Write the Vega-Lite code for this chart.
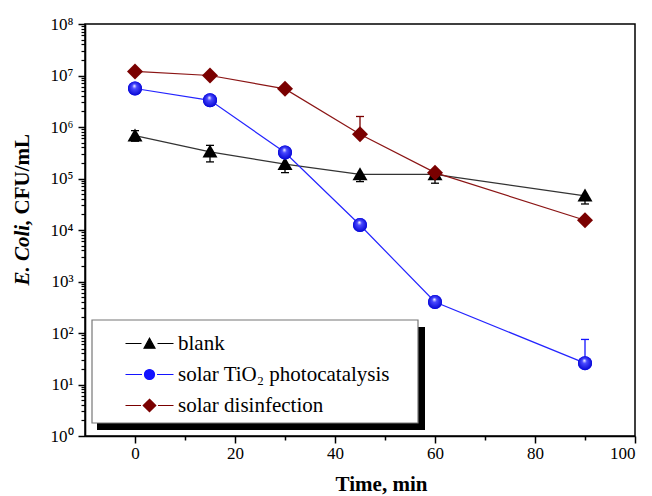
{
  "$schema": "https://vega.github.io/schema/vega-lite/v6.json",
  "width": 550,
  "height": 412,
  "autosize": {"type": "none"},
  "padding": {"left": 85, "top": 24, "right": 17, "bottom": 60},
  "config": {
    "font": "Liberation Serif",
    "view": {"stroke": "#000", "strokeWidth": 1.5},
    "axis": {"grid": false, "domainColor": "#000", "tickColor": "#000", "labelColor": "#000", "titleColor": "#000", "domainWidth": 1.6, "tickWidth": 1.5, "titleFont": "Liberation Serif"}
  },
  "datasets": {
    "pts": [
      {"series": "blank", "t": 0, "v": 680000, "lo": 530000, "hi": 850000},
      {"series": "blank", "t": 15, "v": 330000, "lo": 210000, "hi": 440000},
      {"series": "blank", "t": 30, "v": 190000, "lo": 130000, "hi": 190000},
      {"series": "blank", "t": 45, "v": 120000, "lo": 87000, "hi": 120000},
      {"series": "blank", "t": 60, "v": 120000, "lo": 81000, "hi": 120000},
      {"series": "blank", "t": 90, "v": 46000, "lo": 32000, "hi": 46000},
      {"series": "solar TiO₂ photocatalysis", "t": 0, "v": 5600000, "lo": 5600000, "hi": 5600000},
      {"series": "solar TiO₂ photocatalysis", "t": 15, "v": 3300000, "lo": 3300000, "hi": 3300000},
      {"series": "solar TiO₂ photocatalysis", "t": 30, "v": 320000, "lo": 320000, "hi": 320000},
      {"series": "solar TiO₂ photocatalysis", "t": 45, "v": 12500, "lo": 12500, "hi": 12500},
      {"series": "solar TiO₂ photocatalysis", "t": 60, "v": 400, "lo": 400, "hi": 400},
      {"series": "solar TiO₂ photocatalysis", "t": 90, "v": 26, "lo": 26, "hi": 75},
      {"series": "solar disinfection", "t": 0, "v": 12000000, "lo": 12000000, "hi": 12000000},
      {"series": "solar disinfection", "t": 15, "v": 10000000, "lo": 10000000, "hi": 10000000},
      {"series": "solar disinfection", "t": 30, "v": 5500000, "lo": 5500000, "hi": 5500000},
      {"series": "solar disinfection", "t": 45, "v": 720000, "lo": 720000, "hi": 1600000},
      {"series": "solar disinfection", "t": 60, "v": 130000, "lo": 130000, "hi": 130000},
      {"series": "solar disinfection", "t": 90, "v": 15500, "lo": 15500, "hi": 15500}
    ]
  },
  "data": {"name": "pts"},
  "layer": [
    {
      "data": {"values": [{}]},
      "mark": {"type": "rect", "fill": "#000"},
      "encoding": {
        "x": {"datum": -7.6, "type": "quantitative", "axis": null},
        "x2": {"datum": 58},
        "y": {"datum": 131, "type": "quantitative", "axis": null},
        "y2": {"datum": 1.31}
      }
    },
    {
      "data": {"values": [{}]},
      "mark": {"type": "rect", "fill": "#fff", "stroke": "#777", "strokeWidth": 1.2},
      "encoding": {
        "x": {"datum": -8.6, "type": "quantitative", "axis": null},
        "x2": {"datum": 56.6},
        "y": {"datum": 178.7, "type": "quantitative", "axis": null},
        "y2": {"datum": 1.79}
      }
    },
    {
      "mark": {"type": "line", "strokeWidth": 1.2},
      "encoding": {
        "x": {
          "field": "t", "type": "quantitative",
          "scale": {"domain": [-10, 100], "nice": false, "zero": false},
          "axis": {"orient": "bottom", "values": [0, 20, 40, 60, 80, 100], "tickSize": 7, "labelFont": "Liberation Serif", "labelFontSize": 17, "labelPadding": 2, "title": "Time, min", "titleFont": "Liberation Serif", "titleFontSize": 21, "titleFontWeight": "bold", "titleX": 296, "titleY": 48, "titleAlign": "center", "titleBaseline": "middle"}
        },
        "y": {
          "field": "v", "type": "quantitative",
          "scale": {"type": "log", "domain": [1, 100000000], "nice": false},
          "axis": {"orient": "left", "values": [1, 10, 100, 1000, 10000, 100000, 1000000, 10000000, 100000000], "tickSize": 7, "labelFont": "Liberation Serif", "labelFontSize": 17, "labelPadding": 5, "labelExpr": "'10' + ['⁰','¹','²','³','⁴','⁵','⁶','⁷','⁸'][round(log(datum.value)/LN10)]", "title": "E. Coli,", "titleFont": "Liberation Serif", "titleFontSize": 21, "titleFontWeight": "bold", "titleFontStyle": "italic", "titleAngle": 270, "titleAlign": "left", "titleBaseline": "middle", "titleX": -63, "titleY": 261}
        },
        "stroke": {"field": "series", "type": "nominal", "scale": {"range": ["#333333", "#2424ff", "#8b1515"]}, "legend": null}
      }
    },
    {
      "transform": [{"filter": "datum.hi > datum.lo"}],
      "mark": {"type": "rule", "strokeWidth": 1.3},
      "encoding": {
        "x": {"field": "t", "type": "quantitative", "axis": {"orient": "bottom", "values": [10, 30, 50, 70, 90], "tickSize": 4, "labels": false, "domain": false, "title": null}},
        "y": {"field": "lo", "type": "quantitative", "axis": {"orient": "left", "values": [2,3,4,5,6,7,8,9,20,30,40,50,60,70,80,90,200,300,400,500,600,700,800,900,2000,3000,4000,5000,6000,7000,8000,9000,20000,30000,40000,50000,60000,70000,80000,90000,200000,300000,400000,500000,600000,700000,800000,900000,2000000,3000000,4000000,5000000,6000000,7000000,8000000,9000000,20000000,30000000,40000000,50000000,60000000,70000000,80000000,90000000], "tickSize": 4, "tickWidth": 1.2, "labels": false, "domain": false, "title": "CFU/mL", "titleFont": "Liberation Serif", "titleFontSize": 21, "titleFontWeight": "bold", "titleAngle": 270, "titleAlign": "left", "titleBaseline": "middle", "titleX": -63, "titleY": 190}},
        "y2": {"field": "hi"},
        "color": {"field": "series", "type": "nominal"}
      }
    },
    {
      "transform": [{"filter": "datum.hi > datum.v"}],
      "mark": {"type": "tick", "orient": "horizontal", "size": 8, "thickness": 1.3, "opacity": 1},
      "encoding": {
        "x": {"field": "t", "type": "quantitative", "axis": null},
        "y": {"field": "hi", "type": "quantitative", "axis": null},
        "color": {"field": "series", "type": "nominal"}
      }
    },
    {
      "transform": [{"filter": "datum.lo < datum.v"}],
      "mark": {"type": "tick", "orient": "horizontal", "size": 8, "thickness": 1.3, "opacity": 1},
      "encoding": {
        "x": {"field": "t", "type": "quantitative", "axis": null},
        "y": {"field": "lo", "type": "quantitative", "axis": null},
        "color": {"field": "series", "type": "nominal"}
      }
    },
    {
      "mark": {"type": "point", "filled": true, "opacity": 1, "size": 100, "strokeWidth": 0},
      "encoding": {
        "x": {"field": "t", "type": "quantitative", "axis": null},
        "y": {"field": "v", "type": "quantitative", "axis": null},
        "color": {
          "field": "series", "type": "nominal",
          "scale": {"domain": ["blank", "solar TiO₂ photocatalysis", "solar disinfection"], "range": ["#000000", "#1414ff", "#7a0000"]},
          "legend": {
            "title": null, "orient": "none", "legendX": 54, "legendY": 309, "padding": 0,
            "symbolSize": 100, "symbolOffset": 0, "symbolOpacity": 1, "symbolStrokeWidth": 1.2, "labelOffset": 18, "labelFontSize": 21, "labelFont": "Liberation Serif", "labelColor": "#000", "rowPadding": 9, "labelLimit": 400,
            "encode": {
              "symbols": {
                "update": {
                  "shape": {"signal": "datum.value === 'blank' ? 'M-4.8,0L-1.6,0M1.6,0L4.8,0M-1.1,0.95L0,-1.05L1.1,0.95Z' : (datum.value === 'solar disinfection' ? 'M-4.8,0L-1.7,0M1.7,0L4.8,0M0,-1.25L1.25,0L0,1.25L-1.25,0Z' : 'M-4.8,0L-1.5,0M1.5,0L4.8,0M-1,0A1,1,0,1,1,1,0A1,1,0,1,1,-1,0Z')"},
                  "stroke": {"signal": "datum.value === 'blank' ? '#333333' : (datum.value === 'solar disinfection' ? '#8b1515' : '#2424ff')"},
                  "strokeWidth": {"value": 1.2},
                  "opacity": {"value": 1}
                }
              }
            }
          }
        },
        "shape": {"field": "series", "type": "nominal", "scale": {"range": ["M0,-1.45L1.5,1.15L-1.5,1.15Z", "M-1.4,0A1.4,1.4,0,1,1,1.4,0A1.4,1.4,0,1,1,-1.4,0Z", "M0,-1.6L1.6,0L0,1.6L-1.6,0Z"]}, "legend": null}
      }
    },
    {
      "transform": [{"filter": "datum.series === 'solar TiO₂ photocatalysis'"}],
      "mark": {
        "type": "point", "filled": true, "opacity": 1, "shape": "circle", "size": 196,
        "fill": {"gradient": "radial", "x1": 0.45, "y1": 0.3, "r1": 0, "x2": 0.5, "y2": 0.5, "r2": 0.55,
          "stops": [{"offset": 0, "color": "#ffffff"}, {"offset": 0.3, "color": "#4a4aff"}, {"offset": 1, "color": "#0000d0"}]}
      },
      "encoding": {
        "x": {"field": "t", "type": "quantitative", "axis": null},
        "y": {"field": "v", "type": "quantitative", "axis": null}
      }
    }
  ],
  "resolve": {"axis": {"x": "independent", "y": "independent"}}
}
